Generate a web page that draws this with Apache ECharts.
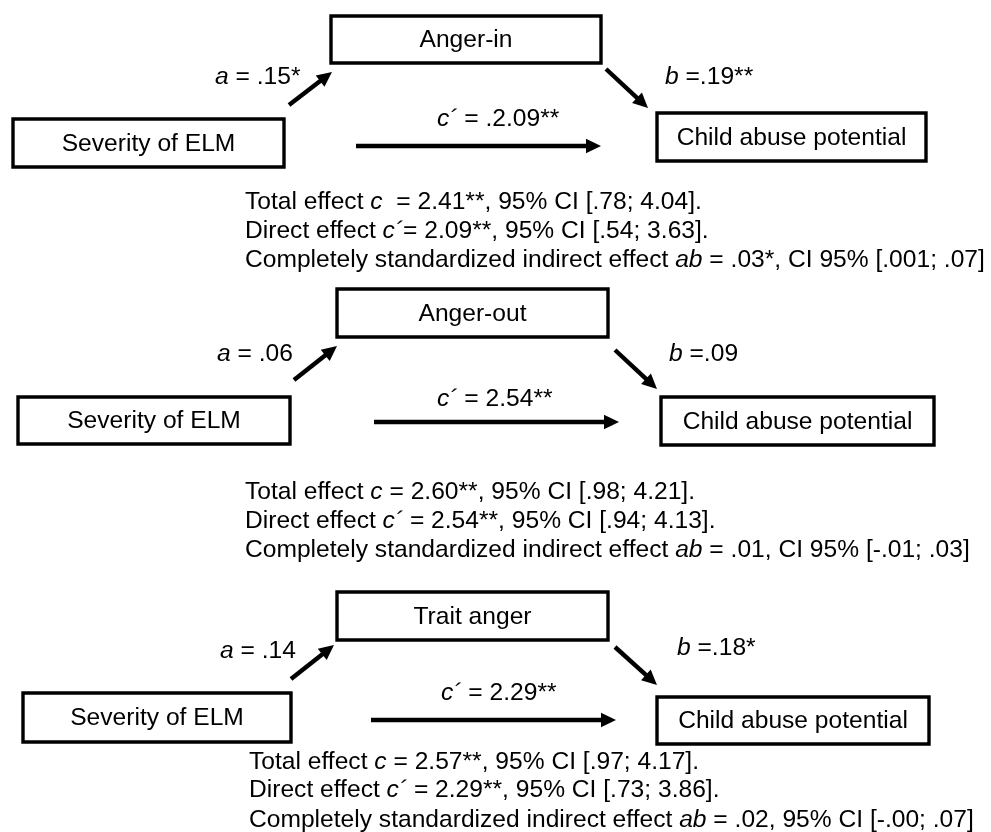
<!DOCTYPE html>
<html>
<head>
<meta charset="utf-8">
<script src="https://cdn.jsdelivr.net/npm/echarts@6/dist/echarts.min.js"></script>
<style>
html,body{margin:0;padding:0;background:#fff;}
#chart{width:991px;height:832px;}
</style>
</head>
<body>
<div id="chart"></div>
<script>
// ---------- data ----------
const predictor = 'Severity of ELM';
const outcome = 'Child abuse potential';
const mediators = ['Anger-in', 'Anger-out', 'Trait anger'];
const aCoef = ['.15*', '.06', '.14'];
const bCoef = ['.19**', '.09', '.18*'];
const cPrimeCoef = ['.2.09**', '2.54**', '2.29**'];
const totalC = ['2.41**', '2.60**', '2.57**'];
const totalSep = ['  = ', ' = ', ' = '];
const totalCI = ['[.78; 4.04].', '[.98; 4.21].', '[.97; 4.17].'];
const directC = ['2.09**', '2.54**', '2.29**'];
const directSep = ['= ', ' = ', ' = '];
const directCI = ['[.54; 3.63].', '[.94; 4.13].', '[.73; 3.86].'];
const indirectAB = ['.03*', '.01', '.02'];
const indirectCILabel = ['CI 95%', 'CI 95%', '95% CI'];
const indirectCI = ['[.001; .07]', '[-.01; .03]', '[-.00; .07]'];

// ---------- layout (diagram positions, in axis units = pixels) ----------
const layout = [
  { pred:[13,119,284,167], med:[331,16,601,63], out:[657,113,926,161],
    aArrow:[289,105,332,72], bArrow:[606,69,648,108], cArrow:[356,146,601,146],
    aLab:[215,77], bLab:[665,77], cLab:[437,119], eff:[245,[202,231,260]] },
  { pred:[18,397,290,444], med:[337,289,608,337], out:[661,397,934,445],
    aArrow:[294,380,337,346], bArrow:[615,350,657,389], cArrow:[374,422,619,422],
    aLab:[217,354], bLab:[669,354], cLab:[437,399], eff:[245,[492,521,550]] },
  { pred:[23,693,291,742], med:[337,592,608,640], out:[657,697,929,744],
    aArrow:[291,679,334,645], bArrow:[615,647,657,685], cArrow:[371,720,616,720],
    aLab:[220,651], bLab:[677,648], cLab:[441,693], eff:[249,[762,790,820]] }
];

const FONT = '"Liberation Sans", Arial, Helvetica, sans-serif';
const FS = 24.6;
const rich = {
  i: { fontStyle: 'italic', fontSize: FS, fontFamily: FONT, fill: '#000' },
  n: { fontSize: FS, fontFamily: FONT, fill: '#000' }
};

// ---------- build marks ----------
const boxes = [], arrows = [], labels = [];
mediators.forEach((m, k) => {
  const L = layout[k];
  boxes.push({ r: L.pred, text: predictor });
  boxes.push({ r: L.med, text: m });
  boxes.push({ r: L.out, text: outcome });
  arrows.push(L.aArrow, L.bArrow, L.cArrow);
  labels.push({ p: L.aLab, text: '{i|a}{n| = ' + aCoef[k] + '}' });
  labels.push({ p: L.bLab, text: '{i|b}{n| =' + bCoef[k] + '}' });
  labels.push({ p: L.cLab, text: '{i|c´}{n| = ' + cPrimeCoef[k] + '}' });
  const x = L.eff[0], ys = L.eff[1];
  labels.push({ p: [x, ys[0]], text: '{n|Total effect }{i|c}{n|' + totalSep[k] + totalC[k] + ', 95% CI ' + totalCI[k] + '}' });
  labels.push({ p: [x, ys[1]], text: '{n|Direct effect }{i|c´}{n|' + directSep[k] + directC[k] + ', 95% CI ' + directCI[k] + '}' });
  labels.push({ p: [x, ys[2]], text: '{n|Completely standardized indirect effect }{i|ab}{n| = ' + indirectAB[k] + ', ' + indirectCILabel[k] + ' ' + indirectCI[k] + '}' });
});

const chart = echarts.init(document.getElementById('chart'), null, { renderer: 'canvas' });
chart.setOption({
  backgroundColor: '#fff',
  animation: false,
  grid: { left: 0, right: 0, top: 0, bottom: 0 },
  xAxis: { type: 'value', min: 0, max: 991, show: false },
  yAxis: { type: 'value', min: 0, max: 832, inverse: true, show: false },
  series: [
    {
      type: 'custom', name: 'boxes', clip: false,
      encode: { x: [0, 2], y: [1, 3] },
      data: boxes.map(b => b.r),
      renderItem: (params, api) => {
        const p0 = api.coord([api.value(0), api.value(1)]);
        const p1 = api.coord([api.value(2), api.value(3)]);
        const b = boxes[params.dataIndex];
        return { type: 'group', children: [
          { type: 'rect', shape: { x: p0[0], y: p0[1], width: p1[0] - p0[0], height: p1[1] - p0[1] },
            style: { fill: '#fff', stroke: '#000', lineWidth: 3.4 } },
          { type: 'text', x: (p0[0] + p1[0]) / 2, y: (p0[1] + p1[1]) / 2 + 1,
            style: { text: b.text, align: 'center', verticalAlign: 'middle', fontSize: FS, fontFamily: FONT, fill: '#000' } }
        ]};
      }
    },
    {
      type: 'custom', name: 'arrows', clip: false,
      encode: { x: [0, 2], y: [1, 3] },
      data: arrows,
      renderItem: (params, api) => {
        const s = api.coord([api.value(0), api.value(1)]);
        const e = api.coord([api.value(2), api.value(3)]);
        const dx = e[0] - s[0], dy = e[1] - s[1];
        const len = Math.sqrt(dx * dx + dy * dy);
        const ux = dx / len, uy = dy / len;
        const hl = 15, hw = 7.2;
        const bx = e[0] - ux * hl, by = e[1] - uy * hl;
        return { type: 'group', children: [
          { type: 'line', shape: { x1: s[0], y1: s[1], x2: bx + ux * 3, y2: by + uy * 3 },
            style: { stroke: '#000', lineWidth: 4.4 } },
          { type: 'polygon', shape: { points: [[e[0], e[1]], [bx - uy * hw, by + ux * hw], [bx + uy * hw, by - ux * hw]] },
            style: { fill: '#000' } }
        ]};
      }
    },
    {
      type: 'custom', name: 'labels', clip: false,
      encode: { x: 0, y: 1 },
      data: labels.map(l => l.p),
      renderItem: (params, api) => {
        const p = api.coord([api.value(0), api.value(1)]);
        const l = labels[params.dataIndex];
        return { type: 'text', x: p[0], y: p[1],
          style: { text: l.text, rich: rich, align: 'left', verticalAlign: 'middle', fontSize: FS, fontFamily: FONT, fill: '#000' } };
      }
    }
  ]
});
</script>
</body>
</html>
